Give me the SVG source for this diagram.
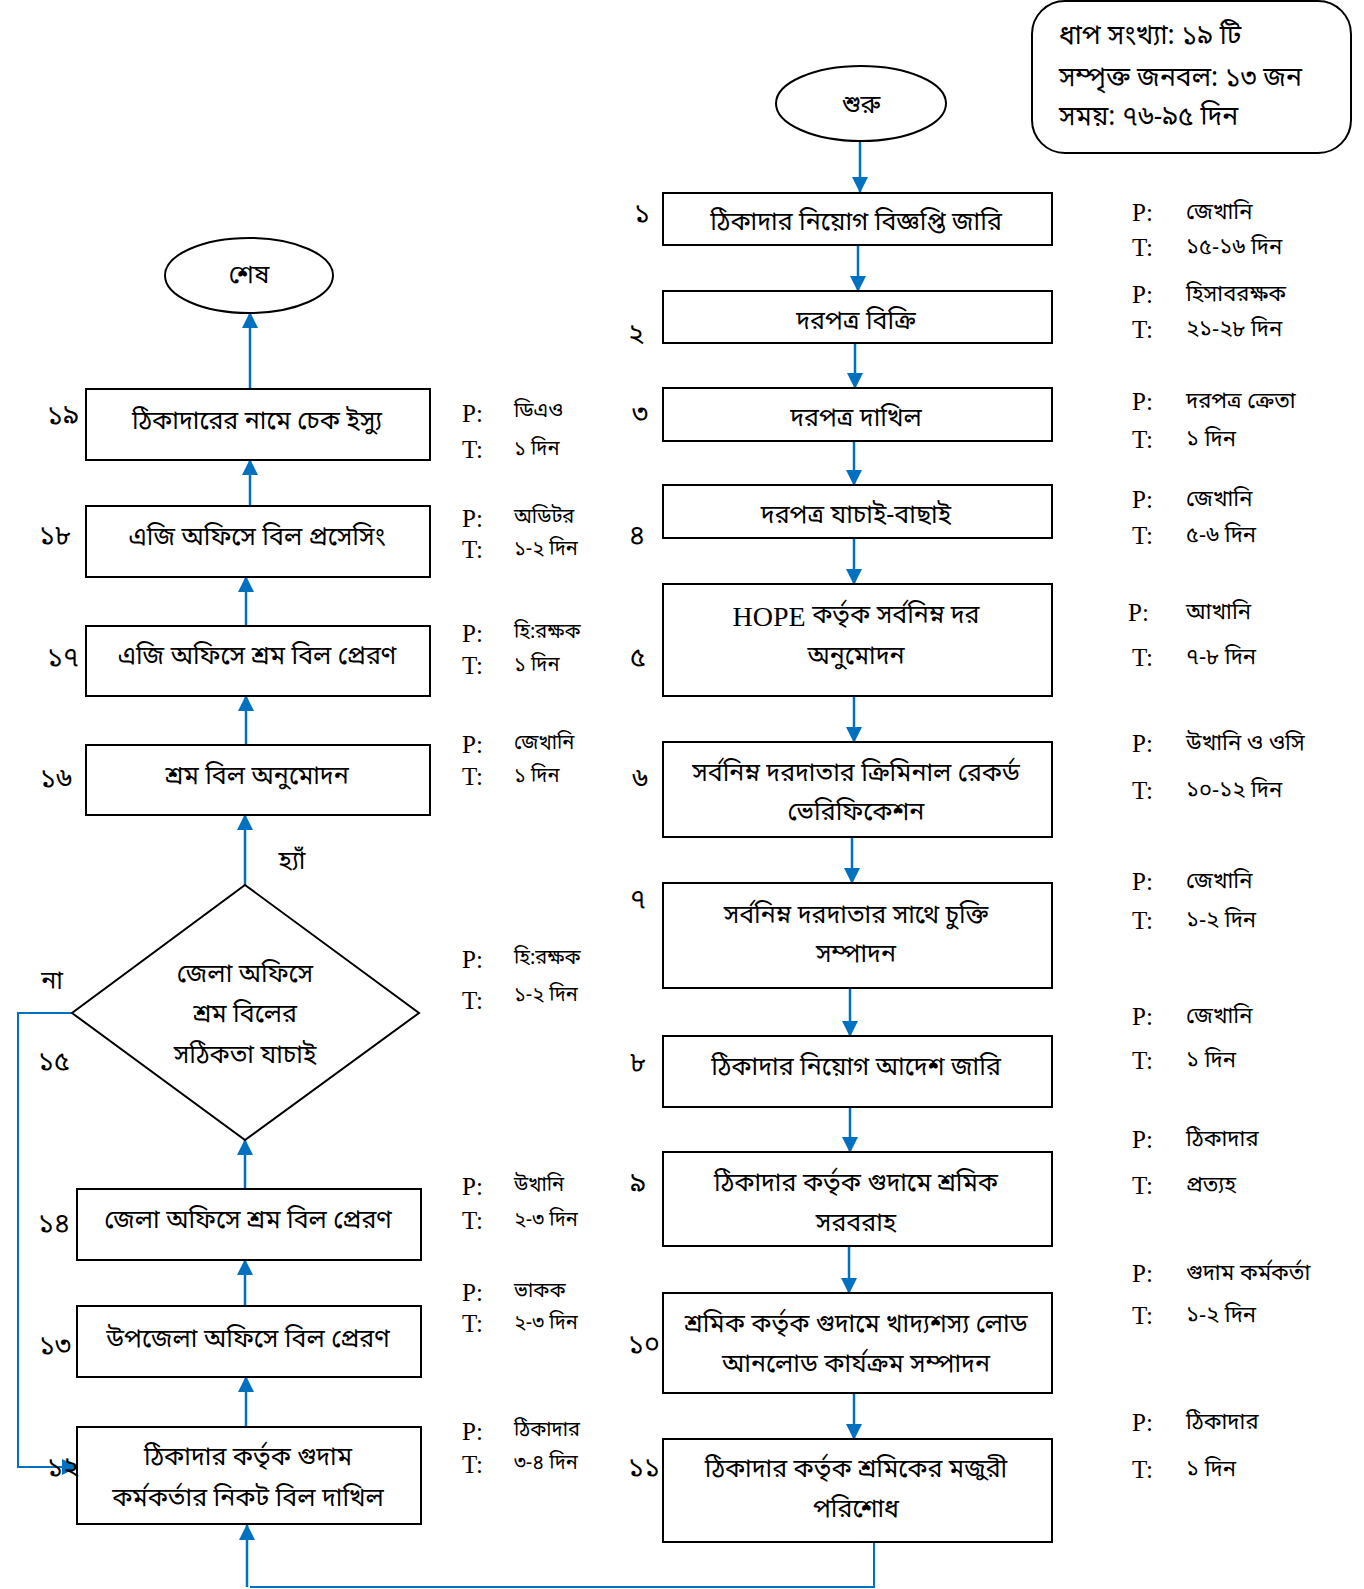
<svg xmlns="http://www.w3.org/2000/svg" width="1364" height="1589" viewBox="0 0 1364 1589">
  <defs>
    <marker id="arr" markerUnits="userSpaceOnUse" markerWidth="16" markerHeight="16" viewBox="0 0 16 16" refX="15" refY="8" orient="auto">
      <path d="M0,0 L16,8 L0,16 Z" fill="#0070C0"/>
    </marker>
    <style>
      .box { fill: #ffffff; stroke: #000000; stroke-width: 2; }
      .bn { font-family: "Noto Sans Bengali", "Noto Serif Bengali", "Lohit Bengali", "Noto Sans", sans-serif; font-size: 25px; fill: #000; text-anchor: middle; dominant-baseline: central; }
      .sum { font-family: "Noto Sans Bengali", "Noto Serif Bengali", "Lohit Bengali", "Noto Sans", sans-serif; font-size: 26.5px; fill: #000; dominant-baseline: central; }
      .num { font-family: "Noto Sans Bengali", "Noto Serif Bengali", "Lohit Bengali", "Noto Sans", sans-serif; font-size: 27px; fill: #000; text-anchor: middle; dominant-baseline: central; }
      .lbl { font-family: "Noto Sans Bengali", "Noto Serif Bengali", "Lohit Bengali", "Noto Sans", sans-serif; font-size: 25px; fill: #000; text-anchor: middle; dominant-baseline: central; }
      .pt { font-family: "Liberation Serif", "Times New Roman", serif; font-size: 25px; fill: #000; dominant-baseline: central; }
      .ptv { font-family: "Noto Sans Bengali", "Noto Serif Bengali", "Lohit Bengali", "Noto Sans", sans-serif; font-size: 22px; fill: #000; dominant-baseline: central; }
      .ptvs { font-family: "Noto Sans Bengali", "Noto Serif Bengali", "Lohit Bengali", "Noto Sans", sans-serif; font-size: 20px; fill: #000; dominant-baseline: central; }
      .con { fill: none; stroke: #0070C0; stroke-width: 2.5; }
      .conA { fill: none; stroke: #0070C0; stroke-width: 2.5; marker-end: url(#arr); }
      .hope { font-family: "Liberation Serif", "Times New Roman", serif; font-size: 28px; }
    </style>
  </defs>

  <!-- summary box -->
  <g id="summary">
    <rect x="1032" y="1" width="319" height="152" rx="33" ry="33" class="box"/>
    <text class="sum" x="1059" y="37">ধাপ সংখ্যা: ১৯ টি</text>
    <text class="sum" x="1059" y="79">সম্পৃক্ত জনবল: ১৩ জন</text>
    <text class="sum" x="1059" y="118">সময়: ৭৬-৯৫ দিন</text>
  </g>

  <!-- connectors -->
  <g id="connectors">
    <path class="conA" d="M860,141 V192"/>
    <path class="conA" d="M858,245 V291"/>
    <path class="conA" d="M855,343 V388"/>
    <path class="conA" d="M854,441 V485"/>
    <path class="conA" d="M854,538 V584"/>
    <path class="conA" d="M854,696 V742"/>
    <path class="conA" d="M852,837 V883"/>
    <path class="conA" d="M850,988 V1036"/>
    <path class="conA" d="M850,1107 V1152"/>
    <path class="conA" d="M849,1246 V1293"/>
    <path class="conA" d="M854,1393 V1439"/>
    <path class="con" style="stroke-width:2" d="M874,1542 V1587 H250"/>
    <path class="conA" d="M247,1587 V1525"/>
    <path class="conA" d="M246,1427 V1377"/>
    <path class="conA" d="M245,1306 V1260"/>
    <path class="conA" d="M245,1189 V1140"/>
    <path class="conA" d="M245,885 V815"/>
    <path class="conA" d="M246,745 V696"/>
    <path class="conA" d="M246,626 V577"/>
    <path class="conA" d="M250,506 V460"/>
    <path class="conA" d="M250,389 V313"/>
    <path class="conA" style="stroke-width:2" d="M72,1013 H18 V1467 H77"/>
  </g>

  <!-- right column -->
  <g id="start">
    <ellipse cx="861" cy="103.5" rx="85" ry="37.5" class="box"/>
    <text class="bn" x="861" y="106">শুরু</text>
  </g>
  <g id="step1">
    <rect x="663" y="193" width="389" height="52" class="box"/>
    <text class="bn" x="856" y="223">ঠিকাদার নিয়োগ বিজ্ঞপ্তি জারি</text>
    <text class="num" x="642" y="215">১</text>
  </g>
  <g id="step2">
    <rect x="663" y="291" width="389" height="52" class="box"/>
    <text class="bn" x="856" y="322">দরপত্র বিক্রি</text>
    <text class="num" x="636" y="336">২</text>
  </g>
  <g id="step3">
    <rect x="663" y="388" width="389" height="53" class="box"/>
    <text class="bn" x="856" y="419">দরপত্র দাখিল</text>
    <text class="num" x="640" y="415">৩</text>
  </g>
  <g id="step4">
    <rect x="663" y="485" width="389" height="53" class="box"/>
    <text class="bn" x="856" y="516">দরপত্র যাচাই-বাছাই</text>
    <text class="num" x="637" y="537">৪</text>
  </g>
  <g id="step5">
    <rect x="663" y="584" width="389" height="112" class="box"/>
    <text class="bn" x="856" y="616"><tspan class="hope">HOPE</tspan> কর্তৃক সর্বনিম্ন দর</text>
    <text class="bn" x="856" y="657">অনুমোদন</text>
    <text class="num" x="638" y="659">৫</text>
  </g>
  <g id="step6">
    <rect x="663" y="742" width="389" height="95" class="box"/>
    <text class="bn" x="856" y="774">সর্বনিম্ন দরদাতার ক্রিমিনাল রেকর্ড</text>
    <text class="bn" x="856" y="813">ভেরিফিকেশন</text>
    <text class="num" x="640" y="780">৬</text>
  </g>
  <g id="step7">
    <rect x="663" y="883" width="389" height="105" class="box"/>
    <text class="bn" x="856" y="916">সর্বনিম্ন দরদাতার সাথে চুক্তি</text>
    <text class="bn" x="856" y="955">সম্পাদন</text>
    <text class="num" x="638" y="901">৭</text>
  </g>
  <g id="step8">
    <rect x="663" y="1036" width="389" height="71" class="box"/>
    <text class="bn" x="856" y="1068">ঠিকাদার নিয়োগ আদেশ জারি</text>
    <text class="num" x="638" y="1064">৮</text>
  </g>
  <g id="step9">
    <rect x="663" y="1152" width="389" height="94" class="box"/>
    <text class="bn" x="856" y="1184">ঠিকাদার কর্তৃক গুদামে শ্রমিক</text>
    <text class="bn" x="856" y="1224">সরবরাহ</text>
    <text class="num" x="638" y="1185">৯</text>
  </g>
  <g id="step10">
    <rect x="663" y="1293" width="389" height="100" class="box"/>
    <text class="bn" x="856" y="1325">শ্রমিক কর্তৃক গুদামে খাদ্যশস্য লোড</text>
    <text class="bn" x="856" y="1365">আনলোড কার্যক্রম সম্পাদন</text>
    <text class="num" x="644" y="1346">১০</text>
  </g>
  <g id="step11">
    <rect x="663" y="1439" width="389" height="103" class="box"/>
    <text class="bn" x="856" y="1470">ঠিকাদার কর্তৃক শ্রমিকের মজুরী</text>
    <text class="bn" x="856" y="1510">পরিশোধ</text>
    <text class="num" x="644" y="1469">১১</text>
  </g>

  <!-- left column -->
  <g id="step12">
    <rect x="77" y="1427" width="344" height="97" class="box"/>
    <text class="bn" x="248" y="1458">ঠিকাদার কর্তৃক গুদাম</text>
    <text class="bn" x="248" y="1499">কর্মকর্তার নিকট বিল দাখিল</text>
    <text class="num" x="63" y="1469">১২</text>
  </g>
  <g id="step13">
    <rect x="77" y="1306" width="344" height="71" class="box"/>
    <text class="bn" x="248" y="1340">উপজেলা অফিসে বিল প্রেরণ</text>
    <text class="num" x="55" y="1347">১৩</text>
  </g>
  <g id="step14">
    <rect x="77" y="1189" width="344" height="71" class="box"/>
    <text class="bn" x="248" y="1221">জেলা অফিসে শ্রম বিল প্রেরণ</text>
    <text class="num" x="54" y="1225">১৪</text>
  </g>
  <g id="step15">
    <polygon points="245,885 419,1013 245,1140 72,1013" class="box"/>
    <text class="bn" x="245" y="975">জেলা অফিসে</text>
    <text class="bn" x="245" y="1015">শ্রম বিলের</text>
    <text class="bn" x="245" y="1056">সঠিকতা যাচাই</text>
    <text class="num" x="54" y="1063">১৫</text>
    <text class="lbl" x="52" y="982">না</text>
    <text class="lbl" x="292" y="862">হ্যাঁ</text>
  </g>
  <g id="step16">
    <rect x="86" y="745" width="344" height="70" class="box"/>
    <text class="bn" x="257" y="777">শ্রম বিল অনুমোদন</text>
    <text class="num" x="56" y="780">১৬</text>
  </g>
  <g id="step17">
    <rect x="86" y="626" width="344" height="70" class="box"/>
    <text class="bn" x="257" y="657">এজি অফিসে শ্রম বিল প্রেরণ</text>
    <text class="num" x="63" y="659">১৭</text>
  </g>
  <g id="step18">
    <rect x="86" y="506" width="344" height="71" class="box"/>
    <text class="bn" x="257" y="538">এজি অফিসে বিল প্রসেসিং</text>
    <text class="num" x="55" y="537">১৮</text>
  </g>
  <g id="step19">
    <rect x="86" y="389" width="344" height="71" class="box"/>
    <text class="bn" x="257" y="422">ঠিকাদারের নামে চেক ইস্যু</text>
    <text class="num" x="63" y="417">১৯</text>
  </g>
  <g id="end">
    <ellipse cx="249" cy="275.5" rx="84" ry="37.5" class="box"/>
    <text class="bn" x="249" y="276">শেষ</text>
  </g>

  <!-- person / time notes, right column -->
  <g id="notes-right">
    <text class="pt" x="1132" y="212">P:</text><text class="ptv" x="1186" y="213">জেখানি</text>
    <text class="pt" x="1132" y="247">T:</text><text class="ptv" x="1186" y="248">১৫-১৬ দিন</text>
    <text class="pt" x="1132" y="294">P:</text><text class="ptv" x="1186" y="295">হিসাবরক্ষক</text>
    <text class="pt" x="1132" y="329">T:</text><text class="ptv" x="1186" y="330">২১-২৮ দিন</text>
    <text class="pt" x="1132" y="401">P:</text><text class="ptv" x="1186" y="402">দরপত্র ক্রেতা</text>
    <text class="pt" x="1132" y="439">T:</text><text class="ptv" x="1186" y="440">১ দিন</text>
    <text class="pt" x="1132" y="499">P:</text><text class="ptv" x="1186" y="500">জেখানি</text>
    <text class="pt" x="1132" y="535">T:</text><text class="ptv" x="1186" y="536">৫-৬ দিন</text>
    <text class="pt" x="1128" y="612">P:</text><text class="ptv" x="1186" y="613">আখানি</text>
    <text class="pt" x="1132" y="657">T:</text><text class="ptv" x="1186" y="658">৭-৮ দিন</text>
    <text class="pt" x="1132" y="743">P:</text><text class="ptv" x="1186" y="744">উখানি ও ওসি</text>
    <text class="pt" x="1132" y="790">T:</text><text class="ptv" x="1186" y="791">১০-১২ দিন</text>
    <text class="pt" x="1132" y="881">P:</text><text class="ptv" x="1186" y="882">জেখানি</text>
    <text class="pt" x="1132" y="920">T:</text><text class="ptv" x="1186" y="921">১-২ দিন</text>
    <text class="pt" x="1132" y="1016">P:</text><text class="ptv" x="1186" y="1017">জেখানি</text>
    <text class="pt" x="1132" y="1060">T:</text><text class="ptv" x="1186" y="1061">১ দিন</text>
    <text class="pt" x="1132" y="1139">P:</text><text class="ptv" x="1186" y="1140">ঠিকাদার</text>
    <text class="pt" x="1132" y="1185">T:</text><text class="ptv" x="1186" y="1186">প্রত্যহ</text>
    <text class="pt" x="1132" y="1273">P:</text><text class="ptv" x="1186" y="1274">গুদাম কর্মকর্তা</text>
    <text class="pt" x="1132" y="1315">T:</text><text class="ptv" x="1186" y="1316">১-২ দিন</text>
    <text class="pt" x="1132" y="1422">P:</text><text class="ptv" x="1186" y="1423">ঠিকাদার</text>
    <text class="pt" x="1132" y="1469">T:</text><text class="ptv" x="1186" y="1470">১ দিন</text>
  </g>

  <!-- person / time notes, left column -->
  <g id="notes-left">
    <text class="pt" x="462" y="413">P:</text><text class="ptvs" x="514" y="412">ডিএও</text>
    <text class="pt" x="462" y="449">T:</text><text class="ptvs" x="514" y="450">১ দিন</text>
    <text class="pt" x="462" y="518">P:</text><text class="ptvs" x="514" y="518">অডিটর</text>
    <text class="pt" x="462" y="549">T:</text><text class="ptvs" x="514" y="550">১-২ দিন</text>
    <text class="pt" x="462" y="633">P:</text><text class="ptvs" x="514" y="633">হি:রক্ষক</text>
    <text class="pt" x="462" y="665">T:</text><text class="ptvs" x="514" y="666">১ দিন</text>
    <text class="pt" x="462" y="744">P:</text><text class="ptvs" x="514" y="744">জেখানি</text>
    <text class="pt" x="462" y="776">T:</text><text class="ptvs" x="514" y="777">১ দিন</text>
    <text class="pt" x="462" y="959">P:</text><text class="ptvs" x="514" y="959">হি:রক্ষক</text>
    <text class="pt" x="462" y="1000">T:</text><text class="ptvs" x="514" y="996">১-২ দিন</text>
    <text class="pt" x="462" y="1186">P:</text><text class="ptvs" x="514" y="1186">উখানি</text>
    <text class="pt" x="462" y="1220">T:</text><text class="ptvs" x="514" y="1221">২-৩ দিন</text>
    <text class="pt" x="462" y="1292">P:</text><text class="ptvs" x="514" y="1292">ভাকক</text>
    <text class="pt" x="462" y="1323">T:</text><text class="ptvs" x="514" y="1324">২-৩ দিন</text>
    <text class="pt" x="462" y="1431">P:</text><text class="ptvs" x="514" y="1431">ঠিকাদার</text>
    <text class="pt" x="462" y="1464">T:</text><text class="ptvs" x="514" y="1464">৩-৪ দিন</text>
  </g>
</svg>
